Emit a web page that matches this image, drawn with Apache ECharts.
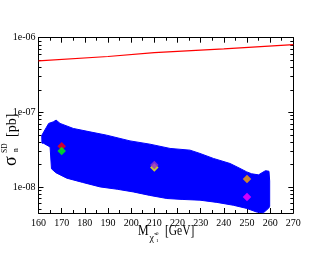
<!DOCTYPE html>
<html><head><meta charset="utf-8">
<script src="https://cdn.jsdelivr.net/npm/echarts@6/dist/echarts.min.js"></script>
<style>html,body{margin:0;padding:0;background:#fff}#c{width:330px;height:255px}</style>
</head><body><div id="c"></div>
<script>
// ---- data ----
const xTicks = [160,170,180,190,200,210,220,230,240,250,260,270];
const yTickValues = [1e-8, 1e-7, 1e-6];
const yTickLabels = ['1e-08', '1e-07', '1e-06'];
const yMinorValues = [5e-9,6e-9,7e-9,8e-9,9e-9,2e-8,3e-8,4e-8,5e-8,6e-8,7e-8,8e-8,9e-8,2e-7,3e-7,4e-7,5e-7,6e-7,7e-7,8e-7,9e-7];
const yRange = [4.47e-9, 1e-6];

// blue allowed region: upper boundary (left -> right)
const bandUpperX = [161.5, 161.4, 163.3, 164.4, 166.4, 167.6, 169.3, 175, 182.2, 189.4, 195.2, 199.5, 208.1, 216.8, 225.4, 229.7, 235.5, 242.7, 247, 249.9, 252, 255, 256.5, 258, 259.5, 259.8, 259.8];
const bandUpperY = [3.86e-8, 4.9e-8, 6.2e-8, 7.1e-8, 7.45e-8, 7.86e-8, 7.1e-8, 6.08e-8, 5.47e-8, 4.94e-8, 4.46e-8, 4.14e-8, 3.74e-8, 3.28e-8, 3.11e-8, 2.81e-8, 2.41e-8, 2.06e-8, 1.77e-8, 1.59e-8, 1.5e-8, 1.45e-8, 1.55e-8, 1.65e-8, 1.62e-8, 1.2e-8, 5.5e-9];
// lower boundary (right -> left)
const bandLowerX = [259.4, 257.1, 254.2, 249.9, 244.1, 237, 229.7, 222, 215.4, 208, 200.9, 194, 186.6, 179, 172.2, 167.5, 165.6, 165, 162.1];
const bandLowerY = [5.2e-9, 4.5e-9, 4.6e-9, 5.15e-9, 5.68e-9, 6.2e-9, 6.64e-9, 6.8e-9, 6.99e-9, 7.7e-9, 8.57e-9, 9.3e-9, 1.0e-8, 1.15e-8, 1.31e-8, 1.55e-8, 1.75e-8, 3.43e-8, 3.86e-8];

// experimental limit (red line)
const limitX = [160, 190, 210, 240, 270];
const limitY = [4.9e-7, 5.6e-7, 6.3e-7, 7.1e-7, 8.1e-7];

// benchmark points
const pointX = [170, 170, 210, 210, 250, 250];
const pointY = [3.52e-8, 3.04e-8, 1.82e-8, 1.97e-8, 1.28e-8, 7.35e-9];
const pointColors = ['#ff0000', '#00ff00', '#ffff00', '#9a32cd', '#ffa500', '#ff00ff'];

// ---- chart ----
const lg = Math.log10;
const bandX = bandUpperX.concat(bandLowerX);
const bandY = bandUpperY.concat(bandLowerY);
const majorLg = yTickValues.map(lg);
const minorLg = yMinorValues.map(lg);
const serif = 'Liberation Serif';

function labelFor(v) {
  for (let i = 0; i < majorLg.length; i++) if (Math.abs(majorLg[i] - v) < 1e-6) return yTickLabels[i];
  return '';
}

const axisLine = { show: true, lineStyle: { color: '#000', width: 1 } };
const chart = echarts.init(document.getElementById('c'), null, { renderer: 'canvas' });

const xBase = (pos, showLabel) => ({
  type: 'value', position: pos, min: 160, max: 270, interval: 10,
  axisLine: axisLine,
  axisTick: { show: true, inside: true, length: 5, lineStyle: { color: '#000' } },
  minorTick: { show: true, splitNumber: 2, length: 3, lineStyle: { color: '#000' } },
  splitLine: { show: false }, minorSplitLine: { show: false },
  axisLabel: { show: showLabel, customValues: xTicks, fontFamily: serif, fontSize: 10, color: '#000', margin: 5 }
});
const yMajor = (pos, showLabel) => ({
  type: 'value', position: pos, min: lg(yRange[0]), max: lg(yRange[1]),
  axisLine: axisLine,
  axisTick: { show: true, inside: true, length: 5, customValues: majorLg, lineStyle: { color: '#000' } },
  splitLine: { show: false },
  axisLabel: { show: showLabel, customValues: majorLg, formatter: labelFor, fontFamily: serif, fontSize: 10, color: '#000', margin: 3 }
});
const yMinor = (pos) => ({
  type: 'value', position: pos, min: lg(yRange[0]), max: lg(yRange[1]),
  axisLine: { show: false },
  axisTick: { show: true, inside: true, length: 3, customValues: minorLg, lineStyle: { color: '#000' } },
  splitLine: { show: false },
  axisLabel: { show: false }
});

chart.setOption({
  animation: false,
  backgroundColor: '#fff',
  grid: { left: 38.5, top: 37.7, width: 254.8, height: 175.3 },
  xAxis: [xBase('bottom', true), xBase('top', false)],
  yAxis: [yMajor('left', true), yMinor('left'), yMajor('right', false), yMinor('right')],
  series: [
    {
      type: 'custom', xAxisIndex: 0, yAxisIndex: 0, z: 2,
      data: [[bandX[0], lg(bandY[0])]],
      renderItem: function (params, api) {
        const pts = bandX.map((x, i) => api.coord([x, lg(bandY[i])]));
        return { type: 'polygon', shape: { points: pts }, style: { fill: '#0000ff', stroke: '#0000ff', lineWidth: 1 } };
      }
    },
    {
      type: 'line', xAxisIndex: 0, yAxisIndex: 0, z: 3, symbol: 'none',
      data: limitX.map((x, i) => [x, lg(limitY[i])]),
      lineStyle: { color: '#ff0000', width: 1.2 }
    },
    {
      type: 'scatter', xAxisIndex: 0, yAxisIndex: 0, z: 4, symbol: 'diamond', symbolSize: 8.5,
      data: pointX.map((x, i) => ({ value: [x, lg(pointY[i])], itemStyle: { color: pointColors[i] } }))
    }
  ],
  graphic: [
    { type: 'text', x: 138, y: 231, scaleX: 0.85, style: { text: 'M', font: '14px "Liberation Serif"', fill: '#000', verticalAlign: 'middle' } },
    { type: 'text', x: 149.5, y: 238, style: { text: 'χ̃', font: '10px "Liberation Serif"', fill: '#000', verticalAlign: 'middle' } },
    { type: 'text', x: 156, y: 234, style: { text: '0', font: '5px "Liberation Serif"', fill: '#000', verticalAlign: 'middle' } },
    { type: 'text', x: 156, y: 241, style: { text: '1', font: '5px "Liberation Serif"', fill: '#000', verticalAlign: 'middle' } },
    { type: 'text', x: 165, y: 231, scaleX: 0.82, style: { text: '[GeV]', font: '14px "Liberation Serif"', fill: '#000', verticalAlign: 'middle' } },
    { type: 'text', x: 11, y: 166, rotation: Math.PI / 2, style: { text: 'σ', font: '18px "Liberation Serif"', fill: '#000', verticalAlign: 'middle' } },
    { type: 'text', x: 5.5, y: 153, rotation: Math.PI / 2, style: { text: 'SD', font: '7.5px "Liberation Serif"', fill: '#000', verticalAlign: 'middle' } },
    { type: 'text', x: 16, y: 152, rotation: Math.PI / 2, style: { text: 'n', font: '7.5px "Liberation Serif"', fill: '#000', verticalAlign: 'middle' } },
    { type: 'text', x: 12, y: 137, rotation: Math.PI / 2, style: { text: '[pb]', font: '14px "Liberation Serif"', fill: '#000', verticalAlign: 'middle' } }
  ]
});
</script></body></html>
